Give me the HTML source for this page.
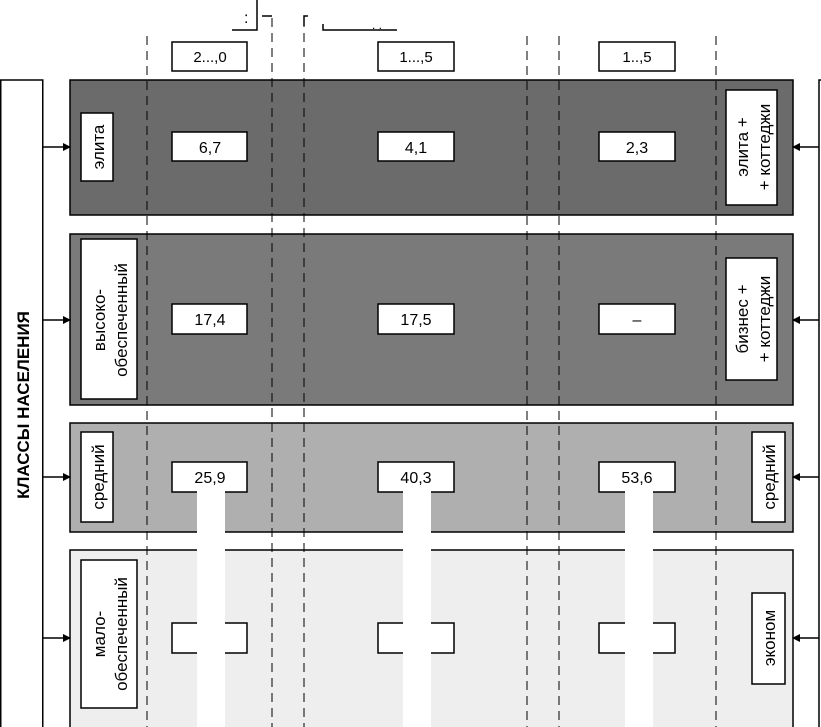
<!DOCTYPE html>
<html><head><meta charset="utf-8"><style>
html,body{margin:0;padding:0;background:#fff;}
svg{display:block;}
text{font-family:"Liberation Sans",sans-serif;}
</style></head><body>
<svg width="821" height="727" viewBox="0 0 821 727" xmlns="http://www.w3.org/2000/svg">
<defs><marker id="a" markerWidth="8" markerHeight="8" refX="7" refY="4" orient="auto" markerUnits="userSpaceOnUse"><path d="M0,0 L8,4 L0,8 z" fill="#000"/></marker></defs>
<!-- top fragments -->
<path d="M232,30 H257 V0" fill="none" stroke="#000" stroke-width="1.5"/>
<text x="244" y="23" font-size="16">:</text>
<path d="M262,16 H272" stroke="#000" stroke-width="1.5"/>
<path d="M304,26 V16 H308" fill="none" stroke="#000" stroke-width="1.5"/>
<path d="M323,24 V30 H397" fill="none" stroke="#000" stroke-width="1.5"/>
<text x="372" y="29" font-size="12">. .</text>
<!-- header boxes -->
<g fill="#fff" stroke="#000" stroke-width="1.5">
<rect x="172" y="42" width="75" height="29"/>
<rect x="378" y="42" width="76" height="29"/>
<rect x="599" y="42" width="76" height="29"/>
</g>
<g font-size="15" text-anchor="middle">
<text x="210" y="62">2...,0</text>
<text x="416" y="62">1...,5</text>
<text x="637" y="62">1..,5</text>
</g>
<!-- left & right boxes -->
<rect x="0.75" y="80" width="42" height="650" fill="#fff" stroke="#000" stroke-width="1.5"/>
<rect x="819" y="80" width="10" height="650" fill="#fff" stroke="#000" stroke-width="1.5"/>
<text transform="translate(29,405) rotate(-90)" font-size="17" font-weight="bold" text-anchor="middle">КЛАССЫ НАСЕЛЕНИЯ</text>
<!-- rows -->
<g stroke="#000" stroke-width="1.5">
<rect x="70" y="80" width="723" height="135" fill="#6b6b6b"/>
<rect x="70" y="234" width="723" height="171" fill="#7a7a7a"/>
<rect x="70" y="423" width="723" height="109" fill="#afafaf"/>
<rect x="70" y="550" width="723" height="180" fill="#eeeeee"/>
</g>
<!-- dashed lines -->
<g stroke="#000" stroke-width="1" stroke-dasharray="9,6">
<line x1="147" y1="36" x2="147" y2="727"/>
<line x1="272" y1="18" x2="272" y2="727"/>
<line x1="304" y1="18" x2="304" y2="727"/>
<line x1="527" y1="36" x2="527" y2="727"/>
<line x1="559" y1="36" x2="559" y2="727"/>
<line x1="716" y1="36" x2="716" y2="727"/>
</g>
<!-- arrows -->
<g stroke="#000" stroke-width="1.5" marker-end="url(#a)">
<line x1="43" y1="147" x2="70" y2="147"/>
<line x1="43" y1="320" x2="70" y2="320"/>
<line x1="43" y1="477" x2="70" y2="477"/>
<line x1="43" y1="638" x2="70" y2="638"/>
<line x1="819" y1="147" x2="793" y2="147"/>
<line x1="819" y1="320" x2="793" y2="320"/>
<line x1="819" y1="477" x2="793" y2="477"/>
<line x1="819" y1="638" x2="793" y2="638"/>
</g>
<!-- label boxes -->
<g fill="#fff" stroke="#000" stroke-width="1.5">
<rect x="81" y="113" width="32" height="68"/>
<rect x="81" y="239" width="56" height="160"/>
<rect x="81" y="432" width="32" height="90"/>
<rect x="81" y="560" width="56" height="148"/>
<rect x="726" y="90" width="51" height="115"/>
<rect x="726" y="258" width="51" height="122"/>
<rect x="752" y="432" width="33" height="90"/>
<rect x="752" y="593" width="33" height="91"/>
</g>
<g font-size="17" text-anchor="middle">
<text transform="translate(104,147) rotate(-90)">элита</text>
<text transform="translate(105,320) rotate(-90)">высоко-</text>
<text transform="translate(127,320) rotate(-90)">обеспеченный</text>
<text transform="translate(104,477) rotate(-90)">средний</text>
<text transform="translate(105,634) rotate(-90)">мало-</text>
<text transform="translate(127,634) rotate(-90)">обеспеченный</text>
<text transform="translate(748,147) rotate(-90)">элита +</text>
<text transform="translate(770,147) rotate(-90)">+ коттеджи</text>
<text transform="translate(748,319) rotate(-90)">бизнес +</text>
<text transform="translate(770,319) rotate(-90)">+ коттеджи</text>
<text transform="translate(775,477) rotate(-90)">средний</text>
<text transform="translate(775,638) rotate(-90)">эконом</text>
</g>
<!-- value boxes -->
<g fill="#fff" stroke="#000" stroke-width="1.5">
<rect x="172" y="132" width="75" height="29"/><rect x="378" y="132" width="76" height="29"/><rect x="599" y="132" width="76" height="29"/>
<rect x="172" y="304" width="75" height="30"/><rect x="378" y="304" width="76" height="30"/><rect x="599" y="304" width="76" height="30"/>
<rect x="172" y="462" width="75" height="30"/><rect x="378" y="462" width="76" height="30"/><rect x="599" y="462" width="76" height="30"/>
<rect x="172" y="623" width="75" height="30"/><rect x="378" y="623" width="76" height="30"/><rect x="599" y="623" width="76" height="30"/>
</g>
<g font-size="16" text-anchor="middle">
<text x="210" y="153">6,7</text><text x="416" y="153">4,1</text><text x="637" y="153">2,3</text>
<text x="210" y="325">17,4</text><text x="416" y="325">17,5</text><text x="637" y="325">–</text>
<text x="210" y="483">25,9</text><text x="416" y="483">40,3</text><text x="637" y="483">53,6</text>
<text x="210" y="644">9,0</text><text x="416" y="644">4,4</text><text x="637" y="644">4,6</text>
</g>
<!-- white bars -->
<g fill="#fff">
<rect x="197" y="490" width="28" height="237"/>
<rect x="403" y="490" width="28" height="237"/>
<rect x="625" y="490" width="28" height="237"/>
</g>
</svg>
</body></html>
